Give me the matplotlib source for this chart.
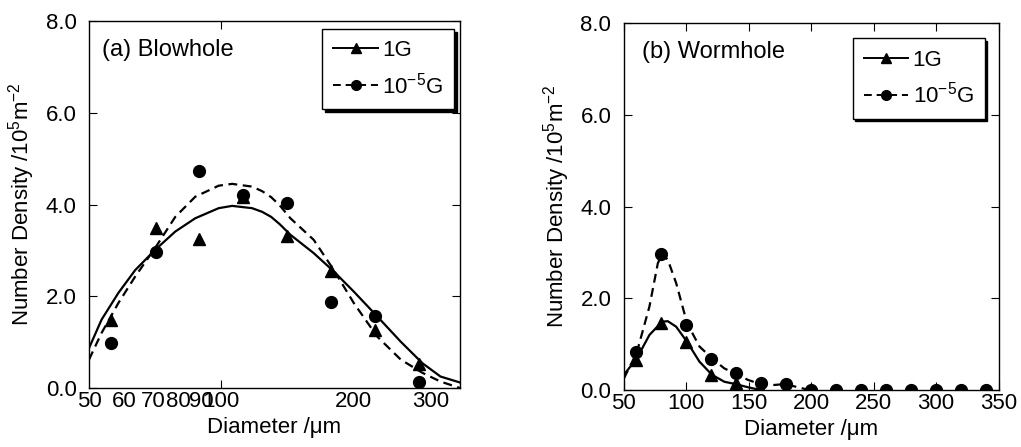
import matplotlib
matplotlib.use("Agg")
import matplotlib.pyplot as plt
from matplotlib.lines import Line2D
from matplotlib.ticker import FixedLocator, FixedFormatter

plt.rcParams['font.family'] = ['Liberation Sans', 'DejaVu Sans']
plt.rcParams['mathtext.fontset'] = 'custom'
plt.rcParams['mathtext.rm'] = 'Liberation Sans'
plt.rcParams['mathtext.it'] = 'Liberation Sans:italic'

# (a) Blowhole - measured points
blow_d = [56, 71, 89, 112, 141, 178, 224, 282]
blow_1g = [1.49, 3.48, 3.24, 4.16, 3.32, 2.54, 1.27, 0.53]
blow_mg = [0.98, 2.96, 4.74, 4.20, 4.04, 1.88, 1.58, 0.12]

# (a) fitted curves
blow_fit_d = [50, 53.4, 58.3, 63.7, 70.7, 78.6, 87.3, 98.7, 105.9, 117.6, 124, 130, 136, 143.8,
              162.5, 180.6, 200.6, 226.8, 256.5, 287.5, 316, 350]
blow_fit_1g = [0.87, 1.49, 2.07, 2.57, 3.01, 3.41, 3.70, 3.92, 3.97, 3.92, 3.84, 3.73, 3.57, 3.34,
               2.94, 2.54, 2.10, 1.56, 1.01, 0.54, 0.25, 0.12]
blow_fit_mg = [0.62, 1.20, 1.85, 2.43, 3.05, 3.73, 4.17, 4.41, 4.45, 4.39, 4.29, 4.16, 3.98, 3.70,
               3.23, 2.57, 1.85, 1.12, 0.62, 0.33, 0.14, 0.0]

# (b) Wormhole - measured points
worm_d_1g = [60, 80, 100, 120, 140, 160, 180]
worm_1g = [0.65, 1.46, 1.05, 0.33, 0.15, 0.0, 0.0]
worm_d_mg = [60, 80, 100, 120, 140, 160, 180, 200, 220, 240, 260, 280, 300, 320, 340]
worm_mg = [0.82, 2.97, 1.42, 0.68, 0.36, 0.15, 0.13, 0.0, 0.0, 0.0, 0.0, 0.0, 0.0, 0.0, 0.0]

# (b) fitted curves
worm_fit_d1 = [50, 60.4, 70.5, 80.6, 85.2, 91.9, 100.6, 110.5, 120.6, 130.5, 139.3, 149.4, 159.3]
worm_fit_1g = [0.33, 0.69, 1.20, 1.49, 1.50, 1.38, 1.05, 0.62, 0.33, 0.18, 0.13, 0.06, 0.0]
worm_fit_d2 = [50, 60.4, 70.5, 77.2, 80.6, 85.2, 91.9, 100.6, 110.5, 120.6, 130.5, 139.3,
               149.4, 159.3, 170.5, 179, 189.4, 198.5]
worm_fit_mg = [0.25, 0.82, 1.82, 2.76, 2.97, 2.84, 2.33, 1.46, 0.95, 0.69, 0.47, 0.36,
               0.22, 0.13, 0.11, 0.13, 0.06, 0.0]

yticks = [0, 2, 4, 6, 8]
ytick_labels = ["0.0", "2.0", "4.0", "6.0", "8.0"]
ylabel = r"Number Density /10$^{\mathregular{5}}$m$^{\mathregular{-2}}$"
xlabel = "Diameter /μm"
fs = 16
dash = (4, 2.5)

fig = plt.figure(figsize=(10.21, 4.47), dpi=100)
ax1 = fig.add_axes([0.0872, 0.132, 0.3633, 0.821])
ax2 = fig.add_axes([0.611, 0.1275, 0.367, 0.821])


def legend_handles():
    h1 = Line2D([], [], color='black', lw=1.4, marker='^', markersize=7)
    h2 = Line2D([], [], color='black', lw=1.4, ls='--', dashes=dash, marker='o', markersize=7)
    return [h1, h2]


legend_kw = dict(loc='upper right', fancybox=False, framealpha=1, edgecolor='black',
                 fontsize=fs, handlelength=2.0, handletextpad=0.2, borderpad=0.5,
                 labelspacing=0.5, borderaxespad=0, shadow={'color': 'black', 'alpha': 1})

# ---- panel (a)
ax1.plot(blow_fit_d, blow_fit_1g, color='black', lw=1.6)
ax1.plot(blow_fit_d, blow_fit_mg, color='black', lw=1.6, ls='--', dashes=dash)
ax1.plot(blow_d, blow_1g, ls='none', marker='^', color='black', markersize=8)
ax1.plot(blow_d, blow_mg, ls='none', marker='o', color='black', markersize=8.5)
ax1.set_xscale('log')
ax1.set_xlim(50, 350)
ax1.set_ylim(0, 8)
ax1.xaxis.set_major_locator(FixedLocator([100]))
ax1.xaxis.set_major_formatter(FixedFormatter(["100"]))
ax1.xaxis.set_minor_locator(FixedLocator([50, 60, 70, 80, 90, 200, 300]))
ax1.xaxis.set_minor_formatter(FixedFormatter(["50", "60", "70", "80", "90", "200", "300"]))
ax1.tick_params(axis='x', which='minor', length=0, labelsize=fs, pad=2)
ax1.text(0.035, 0.92, "(a) Blowhole", transform=ax1.transAxes, fontsize=fs + 1, va='center')
ax1.legend(legend_handles(), ["1G", r"10$^{\mathregular{-5}}$G"],
           bbox_to_anchor=(0.985, 0.978), **legend_kw)

# ---- panel (b)
ax2.plot(worm_fit_d1, worm_fit_1g, color='black', lw=1.6)
ax2.plot(worm_fit_d2, worm_fit_mg, color='black', lw=1.6, ls='--', dashes=dash)
ax2.plot(worm_d_1g, worm_1g, ls='none', marker='^', color='black', markersize=8)
ax2.plot(worm_d_mg, worm_mg, ls='none', marker='o', color='black', markersize=8.5)
ax2.set_xlim(50, 350)
ax2.set_ylim(0, 8)
ax2.set_xticks([50, 100, 150, 200, 250, 300, 350])
ax2.text(0.048, 0.92, "(b) Wormhole", transform=ax2.transAxes, fontsize=fs + 1, va='center')
ax2.legend(legend_handles(), ["1G", r"10$^{\mathregular{-5}}$G"],
           bbox_to_anchor=(0.963, 0.958), **legend_kw)

for ax in (ax1, ax2):
    ax.set_yticks(yticks)
    ax.set_yticklabels(ytick_labels)
    ax.tick_params(which='major', direction='in', top=True, right=True, length=6,
                   labelsize=fs)
    ax.tick_params(axis='y', pad=9)
    ax.tick_params(axis='x', pad=2)
    ax.set_xlabel(xlabel, fontsize=fs, labelpad=4)
    ax.set_ylabel(ylabel, fontsize=fs, labelpad=6)
    for s in ax.spines.values():
        s.set_linewidth(1.0)

fig.savefig("out.png", dpi=100)
